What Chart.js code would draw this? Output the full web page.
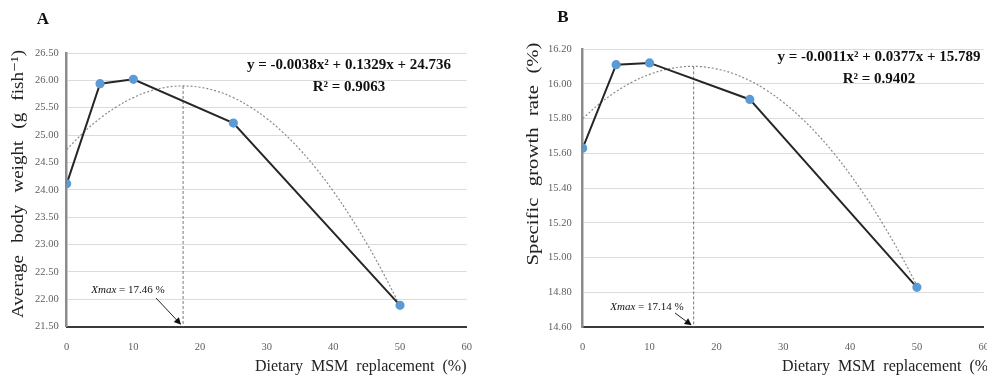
<!DOCTYPE html>
<html>
<head>
<meta charset="utf-8">
<script src="https://cdn.jsdelivr.net/npm/chart.js@4.4.0/dist/chart.umd.min.js"></script>
<style>
  html, body { margin: 0; padding: 0; background: #fff; overflow: hidden; width: 987px; height: 379px; }
  canvas { position: absolute; top: 0; }
  #chartA { left: 0; }
  #chartB { left: 493px; }
</style>
</head>
<body>
<canvas id="chartA" width="493" height="379"></canvas>
<canvas id="chartB" width="510" height="379"></canvas>
<script>
// Dados
const replacement = [0, 5, 10, 25, 50];
const bodyWeight = [24.11, 25.94, 26.02, 25.22, 21.89];
const growthRate = [15.63, 16.11, 16.12, 15.91, 14.83];

// Curvas de tendência
const trendX = [0, 2.5, 5, 7.5, 10, 12.5, 15, 17.5, 20, 22.5, 25, 27.5, 30, 32.5, 35, 37.5, 40, 42.5, 45, 47.5, 50];
const trendWeight = [24.736, 25.045, 25.306, 25.519, 25.685, 25.804, 25.875, 25.898, 25.874, 25.803, 25.684,
  25.517, 25.303, 25.042, 24.733, 24.376, 23.972, 23.521, 23.022, 22.475, 21.881];
const trendGrowth = [15.800, 15.885, 15.955, 16.012, 16.054, 16.083, 16.098, 16.099, 16.086, 16.059, 16.018,
  15.963, 15.894, 15.811, 15.714, 15.604, 15.479, 15.341, 15.188, 15.022, 14.841];

// Ponto máximo (linha vertical)
const xMaxWeight = [17.46, 17.46];
const yMaxWeight = [25.898, 21.5];
const xMaxGrowth = [16.6, 16.6];
const yMaxGrowth = [16.10, 14.6];

const xTicks = [0, 10, 20, 30, 40, 50, 60];

const SERIF = '"Liberation Serif", "DejaVu Serif", serif';

function toPoints(xs, ys) {
  return xs.map((x, i) => ({ x: x, y: ys[i] }));
}

// Palavras esticadas (fator s) e espalhadas até a largura pedida, centradas em 0,0
function drawSpread(ctx, text, width, s) {
  const words = text.split(' ');
  const widths = words.map(w => ctx.measureText(w).width * s);
  const total = widths.reduce((a, b) => a + b, 0);
  const gap = (width - total) / (words.length - 1);
  let x = -width / 2;
  ctx.textAlign = 'left';
  words.forEach((w, i) => {
    ctx.save();
    ctx.translate(x, 0);
    ctx.scale(s, 1);
    ctx.fillText(w, 0, 0);
    ctx.restore();
    x += widths[i] + gap;
  });
}

function drawArrow(ctx, x1, y1, x2, y2) {
  const ang = Math.atan2(y2 - y1, x2 - x1);
  ctx.save();
  ctx.strokeStyle = '#222';
  ctx.fillStyle = '#111';
  ctx.lineWidth = 1;
  ctx.beginPath();
  ctx.moveTo(x1, y1);
  ctx.lineTo(x2 - 5 * Math.cos(ang), y2 - 5 * Math.sin(ang));
  ctx.stroke();
  ctx.beginPath();
  ctx.moveTo(x2, y2);
  ctx.lineTo(x2 - 7 * Math.cos(ang) + 3.5 * Math.sin(ang), y2 - 7 * Math.sin(ang) - 3.5 * Math.cos(ang));
  ctx.lineTo(x2 - 7 * Math.cos(ang) - 3.5 * Math.sin(ang), y2 - 7 * Math.sin(ang) + 3.5 * Math.cos(ang));
  ctx.closePath();
  ctx.fill();
  ctx.restore();
}

// Textos e anotações de cada painel
function textPlugin(p) {
  return {
    id: 'panelText',
    afterDraw(chart) {
      const ctx = chart.ctx;
      const xs = chart.scales.x, ys = chart.scales.y;
      ctx.save();
      ctx.fillStyle = '#111';
      ctx.textBaseline = 'middle';

      // letra do painel
      ctx.font = 'bold 17px ' + SERIF;
      ctx.textAlign = 'center';
      ctx.fillText(p.letter, p.letterPos[0], p.letterPos[1]);

      // título eixo y
      ctx.save();
      ctx.translate(p.yTitlePos[0], p.yTitlePos[1]);
      ctx.rotate(-Math.PI / 2);
      ctx.font = '17px ' + SERIF;
      ctx.fillStyle = '#222';
      drawSpread(ctx, p.yTitle, p.yTitleWidth, p.yTitleStretch);
      ctx.restore();

      // título eixo x
      ctx.font = '16px ' + SERIF;
      ctx.fillStyle = '#222';
      ctx.textAlign = 'left';
      ctx.fillText('Dietary  MSM  replacement  (%)', p.xTitlePos[0], p.xTitlePos[1]);

      // equação
      ctx.font = 'bold 15px ' + SERIF;
      ctx.fillStyle = '#111';
      ctx.textAlign = 'center';
      ctx.fillText(p.equation, p.eqPos[0], p.eqPos[1]);
      ctx.fillText(p.r2, p.eqPos[0], p.eqPos[1] + 22);

      // Xmax
      ctx.font = 'italic 11px ' + SERIF;
      const w1 = ctx.measureText('Xmax').width;
      ctx.font = '11px ' + SERIF;
      const rest = ' = ' + p.xmaxText + ' %';
      const w2 = ctx.measureText(rest).width;
      const left = p.xmaxPos[0] - (w1 + w2) / 2;
      ctx.textAlign = 'left';
      ctx.font = 'italic 11px ' + SERIF;
      ctx.fillText('Xmax', left, p.xmaxPos[1]);
      ctx.font = '11px ' + SERIF;
      ctx.fillText(rest, left + w1, p.xmaxPos[1]);

      const tipX = xs.getPixelForValue(p.xMaxLine[0]) - 2;
      const tipY = ys.getPixelForValue(ys.min) - 2;
      drawArrow(ctx, p.arrowFrom[0], p.arrowFrom[1], tipX, tipY);
      ctx.restore();
    }
  };
}

function makeChart(p) {
  const H = 379;
  return new Chart(document.getElementById(p.canvas), {
    type: 'scatter',
    data: {
      datasets: [
        {
          label: 'Tendência',
          data: toPoints(trendX, p.trend),
          showLine: true,
          borderColor: '#8a8a8a',
          borderWidth: 1.2,
          borderDash: [2, 2],
          pointRadius: 0,
          tension: 0.4,
          order: 2
        },
        {
          label: 'Xmax',
          data: toPoints(p.xMaxLine, p.yMaxLine),
          showLine: true,
          borderColor: '#777',
          borderWidth: 1,
          borderDash: [3, 2],
          pointRadius: 0,
          order: 3
        },
        {
          label: 'Observado',
          data: toPoints(replacement, p.values),
          showLine: true,
          borderColor: '#262626',
          borderWidth: 2,
          pointRadius: 3.6,
          pointBackgroundColor: '#5b9bd5',
          pointBorderColor: '#5b9bd5',
          tension: 0,
          order: 1
        }
      ]
    },
    options: {
      responsive: false,
      animation: false,
      layout: { padding: { top: p.area.top, right: p.canvasWidth - p.area.right, left: 0, bottom: 0 } },
      plugins: { legend: { display: false }, tooltip: { enabled: false } },
      scales: {
        x: {
          type: 'linear',
          min: 0, max: 60,
          afterBuildTicks: s => { s.ticks = xTicks.map(v => ({ value: v })); },
          afterFit: s => { s.height = H - p.area.bottom; },
          grid: { display: false, drawTicks: false },
          border: { display: true, color: '#3a3a3a', width: 2 },
          ticks: { color: '#606060', padding: 14, font: { family: SERIF, size: 10.5 } }
        },
        y: {
          min: p.yMin, max: p.yMax,
          ticks: {
            stepSize: p.yStep,
            color: '#606060',
            padding: p.tickPad,
            font: { family: SERIF, size: 10.5 },
            callback: v => Number(v).toFixed(2)
          },
          afterFit: s => { s.width = p.area.left; },
          grid: { color: '#dcdcdc', lineWidth: 1, drawTicks: false },
          border: { display: true, color: '#8c8c8c', width: 2.5 }
        }
      }
    },
    plugins: [textPlugin(p)]
  });
}

makeChart({
  canvas: 'chartA', canvasWidth: 493,
  area: { left: 66.7, right: 466.7, top: 53, bottom: 326.7 },
  yMin: 21.5, yMax: 26.5, yStep: 0.5, tickPad: 8,
  values: bodyWeight, trend: trendWeight, xMaxLine: xMaxWeight, yMaxLine: yMaxWeight,
  letter: 'A', letterPos: [43, 20],
  yTitle: 'Average body weight (g fish\u207B\u00B9)', yTitlePos: [19, 184], yTitleWidth: 268, yTitleStretch: 1.12,
  xTitlePos: [255, 367],
  equation: 'y = -0.0038x\u00B2 + 0.1329x + 24.736', r2: 'R\u00B2 = 0.9063', eqPos: [349, 65],
  xmaxText: '17.46', xmaxPos: [128, 290], arrowFrom: [156, 298]
});

makeChart({
  canvas: 'chartB', canvasWidth: 510,
  area: { left: 89.7, right: 498.4, top: 49, bottom: 327.3 },
  yMin: 14.6, yMax: 16.2, yStep: 0.2, tickPad: 11,
  values: growthRate, trend: trendGrowth, xMaxLine: xMaxGrowth, yMaxLine: yMaxGrowth,
  letter: 'B', letterPos: [70, 18],
  yTitle: 'Specific growth rate (%)', yTitlePos: [41, 154], yTitleWidth: 223, yTitleStretch: 1.22,
  xTitlePos: [289, 367],
  equation: 'y = -0.0011x\u00B2 + 0.0377x + 15.789', r2: 'R\u00B2 = 0.9402', eqPos: [386, 57],
  xmaxText: '17.14', xmaxPos: [154, 307], arrowFrom: [182, 313]
});
</script>
</body>
</html>
